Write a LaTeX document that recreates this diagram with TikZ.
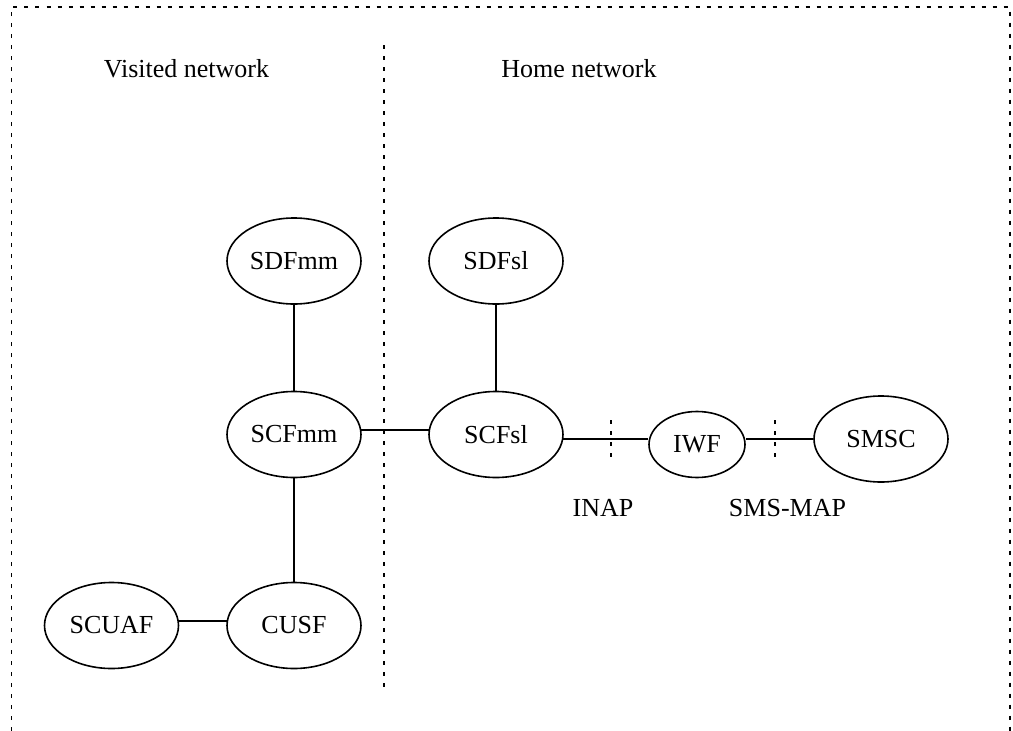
\documentclass[tikz,border=0pt]{standalone}
\usepackage{fontspec}
\setmainfont{Liberation Serif}
\usetikzlibrary{shapes.geometric}
\begin{document}
\begin{tikzpicture}[x=1pt,y=-1pt,
  fn/.style={ellipse, draw, line width=1.6pt, minimum width=134pt, minimum height=86pt, inner sep=0pt, font=\fontsize{26}{30}\selectfont},
  small/.style={fn, minimum width=96pt, minimum height=66pt},
  link/.style={line width=1.6pt},
  sep/.style={line width=1.8pt, dash pattern=on 4pt off 7pt},
  lbl/.style={font=\fontsize{26}{30}\selectfont, inner sep=0pt, anchor=base}]
\useasboundingbox (0,0) rectangle (1013,731);
% frame (open at the bottom)
\draw[sep] (11.5,731) -- (11.5,7) -- (1010,7) -- (1010,731);
% separation between visited and home network
\draw[sep] (384,45) -- (384,688);
\node[lbl] (vis) at (186.5,77) {Visited network};
\node[lbl] (home) at (579,77) {Home network};
% functions
\node[fn] (SDFmm) at (294,261) {SDFmm};
\node[fn] (SDFsl) at (496,261) {SDFsl};
\node[fn] (SCFmm) at (294,434.5) {SCFmm};
\node[fn] (SCFsl) at (496,434.5) {SCFsl};
\node[small] (IWF) at (697,444.5) {IWF};
\node[fn] (SMSC) at (881,439) {SMSC};
\node[fn] (SCUAF) at (111.5,625.5) {SCUAF};
\node[fn] (CUSF) at (294,625.5) {CUSF};
% connectors
\draw[link] (SDFmm) -- (SCFmm);
\draw[link] (SDFsl) -- (SCFsl);
\draw[link] (SCFmm) -- (CUSF);
\draw[link] (SCFmm.4) -- (SCFsl.176);
\draw[link] (SCUAF.4) -- (CUSF.176);
\draw[link] (SCFsl.-4) -- (IWF.west |- SCFsl.-4);
\draw[link] (IWF.east |- SMSC.west) -- (SMSC.west);
% interface ticks
\coordinate (t1) at (611,420);
\coordinate (t2) at (775,420);
\draw[sep] (t1) -- ++(0,39);
\draw[sep] (t2) -- ++(0,39);
\node[lbl] (inap) at (603,516) {INAP};
\node[lbl] (smsmap) at (787.5,516) {SMS-MAP};
\end{tikzpicture}
\end{document}
